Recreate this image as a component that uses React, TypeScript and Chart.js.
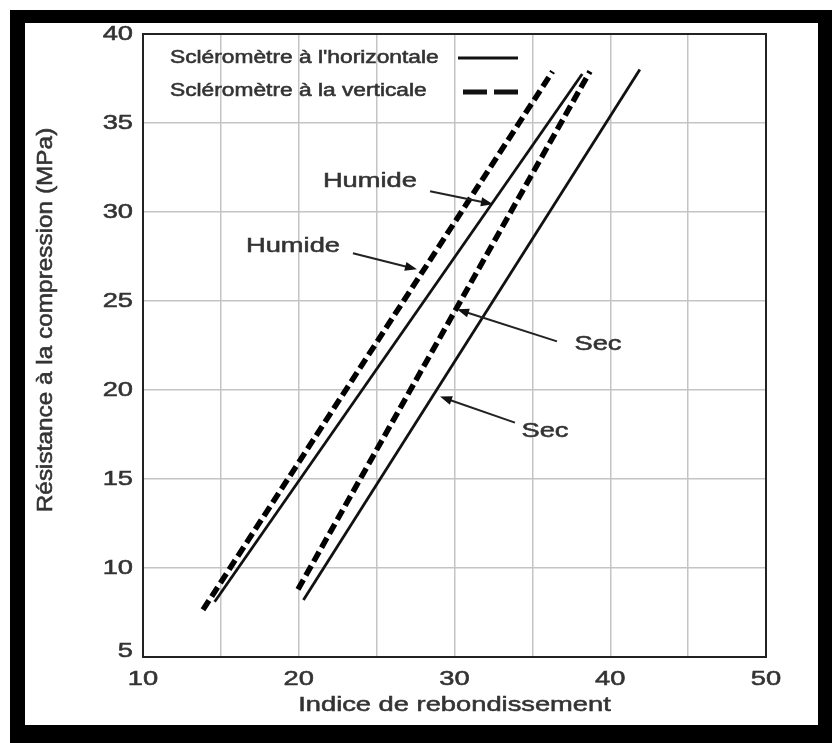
import React, { useEffect, useRef } from "react";
import { Chart, registerables } from "chart.js";

Chart.register(...registerables);

// ---- Data ----
const xTickLabels = [10, 20, 30, 40, 50];
const yTickLabels = [5, 10, 15, 20, 25, 30, 35, 40];

const humideHorizX = [14.6, 38.2];
const humideHorizY = [8.1, 37.75];
const humideVertX = [13.85, 36.3];
const humideVertY = [7.65, 37.9];
const secVertX = [19.95, 38.7];
const secVertY = [8.8, 37.9];
const secHorizX = [20.3, 41.9];
const secHorizY = [8.2, 38.0];

const legendLabels = ["Scléromètre à l'horizontale", "Scléromètre à la verticale"];
const xTitle = "Indice de rebondissement";
const yTitle = "Résistance à la compression (MPa)";

const annotationLabels = ["Humide", "Humide", "Sec", "Sec"];
const annotationTextX = [24.57, 19.63, 39.21, 35.81];
const annotationTextY = [31.73, 28.07, 22.56, 17.66];
const arrowFromX = [28.43, 23.48, 36.58, 33.88];
const arrowFromY = [31.17, 27.68, 22.73, 18.17];
const arrowToX = [32.47, 27.59, 30.16, 29.07];
const arrowToY = [30.44, 26.78, 24.53, 19.63];

const pts = (xs: number[], ys: number[]) => xs.map((x, i) => ({ x, y: ys[i] }));

const FONT = '"Liberation Sans", Arial, Helvetica, sans-serif';
const TEXT = "#333";

function stretchText(
  ctx: CanvasRenderingContext2D,
  s: string,
  x: number,
  y: number,
  size: number,
  align: CanvasTextAlign,
  sx = 1.3,
  rot = 0,
  sy = 1
) {
  ctx.save();
  ctx.translate(x, y);
  if (rot) ctx.rotate(rot);
  ctx.scale(sx, sy);
  ctx.font = `${size}px ${FONT}`;
  ctx.fillStyle = TEXT;
  ctx.strokeStyle = TEXT;
  ctx.lineWidth = 0.55;
  ctx.textAlign = align;
  ctx.textBaseline = "middle";
  ctx.fillText(s, 0, 0);
  ctx.strokeText(s, 0, 0);
  ctx.restore();
}

const framePlugin = {
  id: "frame",
  beforeDraw(chart: any) {
    const { ctx, width, height } = chart;
    ctx.save();
    ctx.fillStyle = "#fff";
    ctx.fillRect(0, 0, width, height);
    ctx.fillStyle = "#000";
    ctx.fillRect(10, 10, width - 10, height - 10);
    ctx.fillStyle = "#fff";
    ctx.fillRect(25, 23, 793, 702);
    ctx.restore();
  },
};

const overlayPlugin = {
  id: "overlay",
  afterDraw(chart: any) {
    const { ctx, chartArea, scales } = chart;
    const xs = scales.x;
    const ys = scales.y;
    // plot border
    ctx.save();
    ctx.strokeStyle = "#222";
    ctx.lineWidth = 2;
    ctx.strokeRect(chartArea.left, chartArea.top, chartArea.right - chartArea.left, chartArea.bottom - chartArea.top);
    ctx.restore();

    // tick labels
    yTickLabels.forEach((v) => {
      const py = ys.getPixelForValue(v) - (v === 5 ? 6 : 0);
      stretchText(ctx, String(v), chartArea.left - 10, py, 21, "right");
    });
    xTickLabels.forEach((v) => {
      const px = xs.getPixelForValue(v);
      stretchText(ctx, String(v), px, chartArea.bottom + 22, 21, "center");
    });

    // axis titles
    stretchText(ctx, xTitle, (chartArea.left + chartArea.right) / 2, 705, 21, "center");
    stretchText(ctx, yTitle, 46, 320, 21, "center", 1.16, -Math.PI / 2, 1.05);

    // legend
    const lx = chartArea.left + 27;
    stretchText(ctx, legendLabels[0], lx, 58, 17.5, "left");
    stretchText(ctx, legendLabels[1], lx, 91, 17.5, "left");
    ctx.save();
    ctx.strokeStyle = "#111";
    ctx.lineWidth = 3;
    ctx.beginPath();
    ctx.moveTo(458, 58);
    ctx.lineTo(518, 58);
    ctx.stroke();
    ctx.lineWidth = 5;
    ctx.setLineDash([24, 7]);
    ctx.beginPath();
    ctx.moveTo(463, 92);
    ctx.lineTo(518, 92);
    ctx.stroke();
    ctx.restore();

    // annotations
    annotationLabels.forEach((lab, i) => {
      stretchText(ctx, lab, xs.getPixelForValue(annotationTextX[i]), ys.getPixelForValue(annotationTextY[i]), 21, "center");
      const x1 = xs.getPixelForValue(arrowFromX[i]);
      const y1 = ys.getPixelForValue(arrowFromY[i]);
      const x2 = xs.getPixelForValue(arrowToX[i]);
      const y2 = ys.getPixelForValue(arrowToY[i]);
      const ang = Math.atan2(y2 - y1, x2 - x1);
      const L = 12;
      const W = 4.5;
      ctx.save();
      ctx.strokeStyle = "#222";
      ctx.fillStyle = "#111";
      ctx.lineWidth = 2;
      ctx.beginPath();
      ctx.moveTo(x1, y1);
      ctx.lineTo(x2 - Math.cos(ang) * L * 0.8, y2 - Math.sin(ang) * L * 0.8);
      ctx.stroke();
      ctx.beginPath();
      ctx.moveTo(x2, y2);
      ctx.lineTo(x2 - Math.cos(ang) * L - Math.sin(ang) * W, y2 - Math.sin(ang) * L + Math.cos(ang) * W);
      ctx.lineTo(x2 - Math.cos(ang) * L + Math.sin(ang) * W, y2 - Math.sin(ang) * L - Math.cos(ang) * W);
      ctx.closePath();
      ctx.fill();
      ctx.restore();
    });
  },
};

export default function App() {
  const ref = useRef<HTMLCanvasElement | null>(null);

  useEffect(() => {
    if (!ref.current) return;
    const solid = { borderColor: "#111", borderWidth: 2.8, pointRadius: 0, showLine: true, fill: false };
    const dashed = {
      borderColor: "#000",
      borderWidth: 5.5,
      borderDash: [11, 5],
      borderCapStyle: "butt",
      pointRadius: 0,
      showLine: true,
      fill: false,
    };
    const chart = new Chart(ref.current, {
      type: "scatter",
      data: {
        datasets: [
          { label: legendLabels[1] + " – Humide", data: pts(humideVertX, humideVertY), ...dashed },
          { label: legendLabels[0] + " – Humide", data: pts(humideHorizX, humideHorizY), ...solid },
          { label: legendLabels[1] + " – Sec", data: pts(secVertX, secVertY), ...dashed },
          { label: legendLabels[0] + " – Sec", data: pts(secHorizX, secHorizY), ...solid },
        ] as any,
      },
      options: {
        animation: false,
        responsive: false,
        devicePixelRatio: 1,
        layout: { padding: { left: 0, top: 34, right: 66, bottom: 0 } },
        plugins: { legend: { display: false }, tooltip: { enabled: false }, title: { display: false } },
        scales: {
          x: {
            type: "linear",
            min: 10,
            max: 50,
            ticks: { stepSize: 5, display: false },
            grid: { color: "#c4c4c4", lineWidth: 1.5, drawTicks: false },
            border: { display: false },
            afterFit: (s: any) => {
              s.height = 86;
            },
          },
          y: {
            type: "linear",
            min: 5,
            max: 40,
            ticks: { stepSize: 5, display: false },
            grid: { color: "#c4c4c4", lineWidth: 1.5, drawTicks: false },
            border: { display: false },
            afterFit: (s: any) => {
              s.width = 143;
            },
          },
        },
      },
      plugins: [framePlugin, overlayPlugin],
    });
    return () => chart.destroy();
  }, []);

  return (
    <div style={{ position: "absolute", left: 0, top: 0, width: 832, height: 743, background: "#fff" }}>
      <canvas ref={ref} width={832} height={743} style={{ display: "block", width: 832, height: 743 }} />
    </div>
  );
}
